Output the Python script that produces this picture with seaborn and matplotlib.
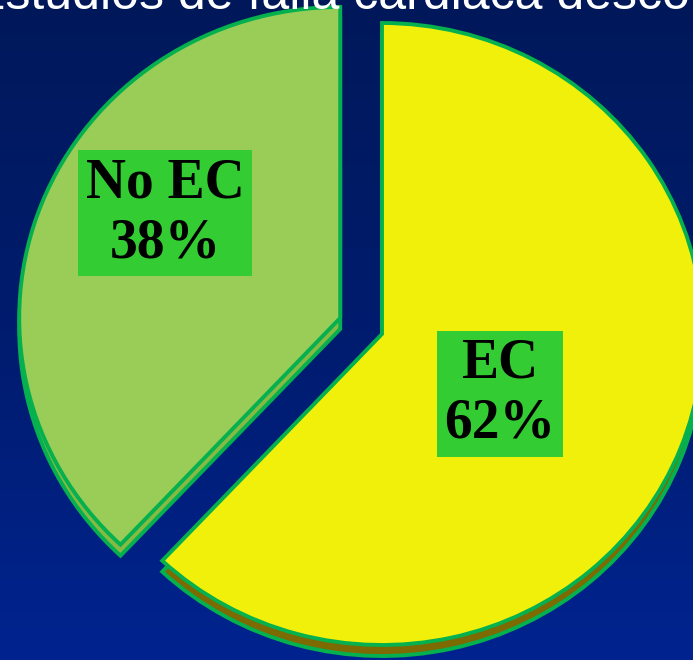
import numpy as np
import matplotlib
matplotlib.use("Agg")
import matplotlib.pyplot as plt
import seaborn as sns

sns.set_style("white")
plt.rcParams["font.family"] = ["Liberation Sans", "DejaVu Sans"]

# Chart data
categories = ["EC", "No EC"]
shares = [62, 38]
label_text = ["EC\n62%", "No EC\n38%"]
title = "Estudios de falla cardiaca descompensada"

# Styling
face_colors = ["#f0f00a", "#99cd58"]
side_colors = ["#7d6a00", "#86ba45"]
edge_color = "#05b04e"
box_color = "#33cc33"
explode = [0.0, 0.14]

W, H = 693, 660
fig = plt.figure(figsize=(W / 100, H / 100), dpi=100)
ax = fig.add_axes([0, 0, 1, 1])

# Pie geometry in pixels: centre and elliptical radii of the top face
cx, cy, rx, ry = 382, 334, 321, 311
xlim = ((0 - cx) / rx, (W - cx) / rx)
ylim = ((cy - H) / ry, cy / ry)

# Vertical blue gradient background, dark navy at the top
grad = np.linspace(0, 1, 256).reshape(-1, 1)
bg = matplotlib.colors.LinearSegmentedColormap.from_list(
    "bg", ["#00185a", "#001c6e", "#00238f"])
ax.imshow(grad, cmap=bg, aspect="auto", origin="upper",
          extent=[xlim[0], xlim[1], ylim[0], ylim[1]], zorder=0)

# Side faces: same pie dropped a few pixels, in darker tones
depth = 11 / ry
ax.pie(shares, colors=side_colors, startangle=90, counterclock=False,
       explode=explode, center=(0, -depth), radius=1.0,
       wedgeprops=dict(edgecolor=edge_color, linewidth=2.8, zorder=2))

# Top faces
wedges, _ = ax.pie(shares, colors=face_colors, startangle=90, counterclock=False,
                   explode=explode, center=(0, 0), radius=1.0,
                   wedgeprops=dict(edgecolor=edge_color, linewidth=2.8))
for w in wedges:
    w.set_zorder(3)

ax.set_aspect("auto")
ax.set_xlim(*xlim)
ax.set_ylim(*ylim)
ax.axis("off")

# Value labels in green boxes
label_pos = [(500 / W, 1 - 394 / H), (165 / W, 1 - 213 / H)]
for txt, (lx, ly) in zip(label_text, label_pos):
    ax.text(lx, ly, txt, transform=ax.transAxes, ha="center", va="center",
            multialignment="center", fontsize=40, fontweight="bold",
            family=["Liberation Serif", "DejaVu Serif"], color="black",
            linespacing=1.2, zorder=5,
            bbox=dict(boxstyle="square,pad=0.13", fc=box_color, ec="none"))

# Slide heading, running off the top edge
fig.text(-28 / W, 1 - 9 / H, title, ha="left", va="baseline",
         fontsize=36, color="white", zorder=6)

fig.savefig("out.png", dpi=100)
